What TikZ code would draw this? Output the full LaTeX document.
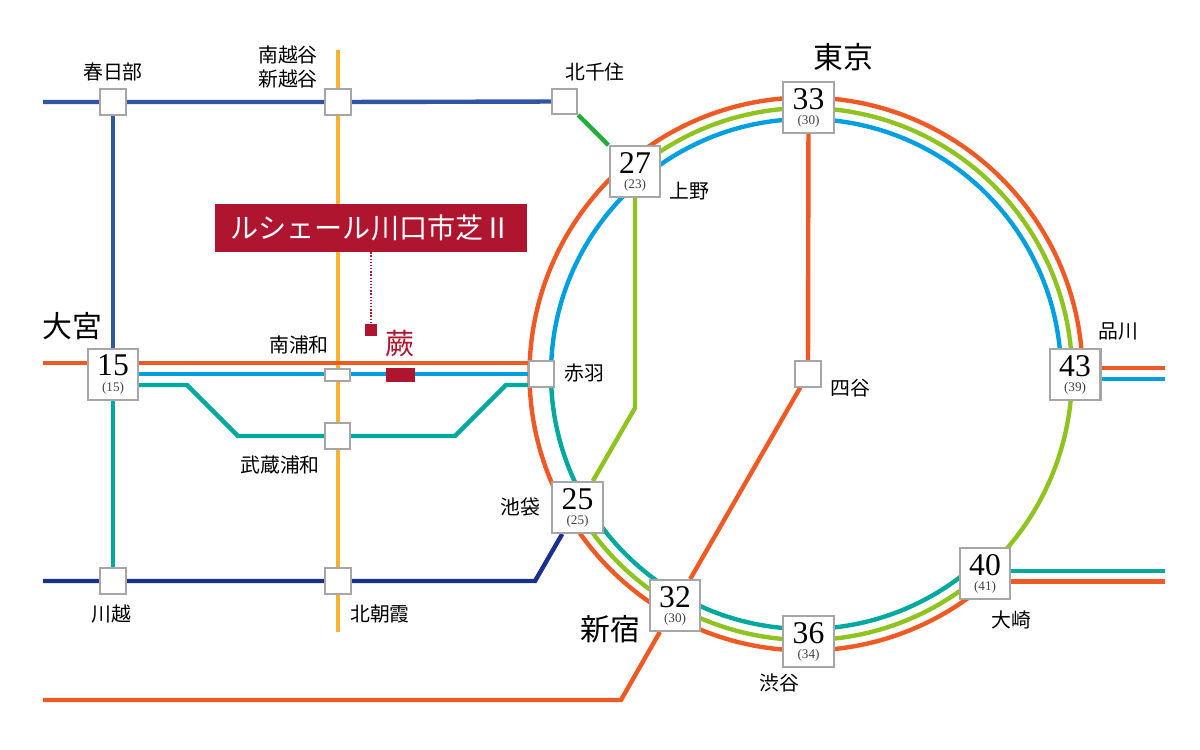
\documentclass[tikz,border=0pt]{standalone}
\usepackage{fontspec}
\setmainfont{Liberation Serif}
\newfontfamily\jpfont{Noto Sans CJK JP}
\usetikzlibrary{backgrounds}
\definecolor{lineorange}{HTML}{EF5A24}
\definecolor{linelime}{HTML}{8FC31F}
\definecolor{linesky}{HTML}{00A0E0}
\definecolor{lineteal}{HTML}{00A99D}
\definecolor{linenavy}{HTML}{1B2F8F}
\definecolor{lineblue}{HTML}{2F55A4}
\definecolor{linegreen}{HTML}{22AC38}
\definecolor{lineyellow}{HTML}{FBB32F}
\definecolor{warabired}{HTML}{B01530}
\newcommand{\stopnum}[2]{{\fontsize{18}{8.6}\selectfont #1}\\{\color{black!75}(#2)}}
\tikzset{
  rail/.style={line width=2.5pt},
  bigstop/.style={draw=black!35,fill=white,line width=1.15pt,minimum size=29pt,inner sep=0pt,
    align=center,font=\fontsize{7.5}{8.6}\selectfont},
  smallstop/.style={draw=black!35,fill=white,line width=1.15pt,minimum size=14.3pt,inner sep=0pt},
  stname/.style={font=\jpfont\fontsize{11.3}{14}\selectfont,inner sep=0pt,align=center},
  bigname/.style={font=\jpfont\fontsize{17}{20}\selectfont,inner sep=0pt},
}
\begin{document}
\begin{tikzpicture}[x=0.02cm,y=0.02cm]
\useasboundingbox (0,0) rectangle (1200,-750);
% stops
\node[smallstop] (kasukabe) at (113,-102) {};
\node[smallstop] (koshigaya) at (338,-102) {};
\node[smallstop] (kitasenju) at (564.5,-101.5) {};
\node[bigstop] (ueno) at (635,-171.5) {\stopnum{27}{23}};
\node[bigstop] (tokyo) at (808.5,-107.5) {\stopnum{33}{30}};
\node[bigstop] (omiya) at (113,-374.5) {\stopnum{15}{15}};
\node[smallstop,minimum height=7pt] (urawa) at (337.5,-375) {};
\node[smallstop] (musashi) at (337.5,-436) {};
\node[smallstop] (akabane) at (541.5,-374) {};
\node[smallstop] (yotsuya) at (808,-374) {};
\node[bigstop] (shinagawa) at (1075,-374.5) {\stopnum{43}{39}};
\node[bigstop] (osaki) at (985,-573.5) {\stopnum{40}{41}};
\node[bigstop] (shibuya) at (808.5,-641.5) {\stopnum{36}{34}};
\node[bigstop] (shinjuku) at (675,-605.5) {\stopnum{32}{30}};
\node[bigstop] (ikebukuro) at (577.5,-507.5) {\stopnum{25}{25}};
\node[smallstop] (kawagoe) at (113,-581) {};
\node[smallstop] (asaka) at (338,-581) {};
\node[fill=warabired,minimum width=16.4pt,minimum height=8.5pt,inner sep=0pt] (warabi) at (400.5,-375) {};
\node[fill=warabired,minimum size=6.8pt,inner sep=0pt] (warabidot) at (371,-330) {};
% free ends and bends
\coordinate (ring) at (806,-374);
\coordinate (westblue) at (43,-102);
\coordinate (westorange) at (43,-363);
\coordinate (skyrow) at (0,-374);
\coordinate (tealrow) at (0,-385);
\coordinate (westnavy) at (43,-581);
\coordinate (westlow) at (43,-700);
\coordinate (bendlow) at (621,-700);
\coordinate (bendnavy) at (535,-581);
\coordinate (bendlime) at (635,-408);
\coordinate (yellowtop) at (338,-50);
\coordinate (yellowend) at (338,-632);
\coordinate (eastorange) at (1165,-368);
\coordinate (eastsky) at (1165,-379);
\coordinate (eastteal) at (1165,-571);
\coordinate (eastlow) at (1165,-581.5);
\begin{scope}[on background layer]
\draw[rail,lineyellow] (yellowtop) -- (yellowend);
% ring
\draw[rail,lineorange] (ring) ++(0:276.5) arc[start angle=0,end angle=306.5,radius=276.5];
\draw[rail,linelime] (ring) ++(214:266) arc[start angle=214,end angle=485,radius=266];
\draw[rail,linesky] (ring) ++(180:255) arc[start angle=180,end angle=0,radius=255];
\draw[rail,lineteal] (ring) ++(180:255) arc[start angle=180,end angle=308,radius=255];
% lines
\draw[rail,lineblue] (westblue) -- (kasukabe) -- (koshigaya) -- (kitasenju);
\draw[rail,lineblue] (kasukabe) -- (omiya);
\draw[rail,linegreen] (kitasenju) -- (ueno);
\draw[rail,lineorange] (westorange) -- (akabane |- westorange);
\draw[rail,linesky] (omiya |- skyrow) -- (akabane |- skyrow);
\draw[rail,lineteal] (omiya |- tealrow) -- (187,-385) -- (238,-436) -- (musashi) -- (455,-436) -- (506,-385) -- (akabane |- tealrow);
\draw[rail,lineteal] (omiya) -- (kawagoe);
\draw[rail,linenavy] (westnavy) -- (kawagoe) -- (asaka) -- (bendnavy) -- (ikebukuro);
\draw[rail,linelime] (ueno) -- (bendlime) -- (ikebukuro);
\draw[rail,lineorange] (tokyo) -- (yotsuya) -- (shinjuku) -- (bendlow) -- (westlow);
\draw[rail,lineorange] (shinagawa |- eastorange) -- (eastorange);
\draw[rail,linesky] (shinagawa |- eastsky) -- (eastsky);
\draw[rail,lineteal] (osaki |- eastteal) -- (eastteal);
\draw[rail,lineorange] (osaki |- eastlow) -- (eastlow);
\end{scope}
% banner
\node[fill=warabired,minimum width=178pt,minimum height=27.2pt,inner sep=0pt,text=white,font=\jpfont\fontsize{16}{18}\selectfont] (banner) at (371,-228) {ルシェール川口市芝Ⅱ};
\draw[warabired,line width=0.8pt,densely dotted] (banner.south -| warabidot) -- (warabidot);
\node[font=\jpfont\fontsize{16.5}{20}\selectfont,text=warabired,inner sep=0pt] (warabiname) at (400,-343) {蕨};
% names
\node[stname] (kasukabename) at (113,-72) {春日部};
\node[stname] (koshigayaname) at (288,-67) {南越谷\\新越谷};
\node[stname] (kitasenjuname) at (595,-72) {北千住};
\node[stname] (uenoname) at (689,-191) {上野};
\node[stname] (shinagawaname) at (1118,-331) {品川};
\node[stname] (akabanename) at (584,-373) {赤羽};
\node[stname] (yotsuyaname) at (850,-388) {四谷};
\node[stname] (osakiname) at (1011,-620) {大崎};
\node[stname] (shibuyaname) at (779,-683) {渋谷};
\node[stname] (ikebukuroname) at (520,-507) {池袋};
\node[stname] (kawagoename) at (111,-614) {川越};
\node[stname] (asakaname) at (380,-614) {北朝霞};
\node[stname] (urawaname) at (299,-345) {南浦和};
\node[stname] (musashiname) at (280,-465) {武蔵浦和};
\node[bigname] (tokyoname) at (843,-57) {東京};
\node[bigname] (omiyaname) at (72,-326) {大宮};
\node[bigname] (shinjukuname) at (610,-629) {新宿};
\end{tikzpicture}
\end{document}
